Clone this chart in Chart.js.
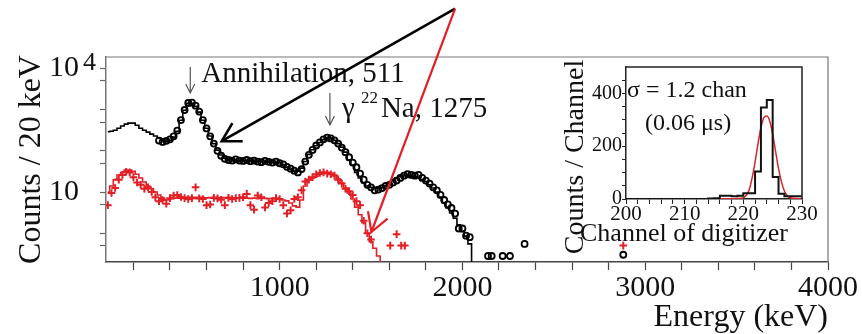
<!DOCTYPE html>
<html>
<head>
<meta charset="utf-8">
<script src="https://cdn.jsdelivr.net/npm/chart.js@4.4.1/dist/chart.umd.min.js"></script>
<style>
  body { margin: 0; background: #fff; }
  #wrap { position: relative; width: 862px; height: 334px; }
  #main { position: absolute; left: 0; top: 0; }
  #inset { position: absolute; left: 550px; top: 55px; }
</style>
</head>
<body>
<div id="wrap">
  <canvas id="main" width="862" height="334"></canvas>
  <canvas id="inset" width="280" height="207"></canvas>
</div>
<script>
// histogram bin centres (20 keV bins)
const histEnergy = [
  60, 80, 100, 120, 140, 160, 180, 200, 220, 240,
  260, 280, 300, 320, 340, 360, 380, 400, 420, 440,
  460, 480, 500, 520, 540, 560, 580, 600, 620, 640,
  660, 680, 700, 720, 740, 760, 780, 800, 820, 840,
  860, 880, 900, 920, 940, 960, 980, 1000, 1020, 1040,
  1060, 1080, 1100, 1120, 1140, 1160, 1180, 1200, 1220, 1240,
  1260, 1280, 1300, 1320, 1340, 1360, 1380, 1400, 1420, 1440,
  1460, 1480, 1500, 1520, 1540, 1560, 1580, 1600, 1620, 1640,
  1660, 1680, 1700, 1720, 1740, 1760, 1780, 1800, 1820, 1840,
  1860, 1880, 1900, 1920, 1940, 1960, 1980, 2000, 2020, 2040,
  2060
];
// simulation, black (all events)
const blackSim = [
  290, 300, 317, 355, 400, 445, 470, 470, 418, 355,
  317, 285, 255, 230, 205, 181, 170, 181, 215, 300,
  553, 967, 1420, 1420, 1200, 870, 553, 355, 230, 150,
  104, 79, 66, 60, 60, 59, 58, 58, 57, 57,
  56, 55, 55, 54, 54, 53, 53, 52, 45, 40,
  36, 32, 32, 38, 55, 82, 106, 133, 160, 188,
  205, 205, 181, 150, 123, 93, 60, 45, 30, 22,
  16.5, 14, 13, 12.5, 12.5, 13, 14, 16, 18.5, 22,
  24, 26, 26, 24, 23, 22, 20, 18, 15, 12.5,
  10, 7.6, 5.4, 4.1, 3.1, 2.3, 1.6, 1.1, 0.85, 0.55,
  0.05
];
// simulation, red (selected events), same bins from 60 keV
const redSim = [
  10, 14, 20, 26, 30, 34, 34, 32, 27, 22,
  17.5, 14, 12, 10, 8.5, 7.1, 6.4, 6.8, 7.1, 7.1,
  7.2, 7.3, 7.4, 7.3, 7.4, 7.5, 7.3, 7.2, 7.3, 7.4,
  7.3, 7.2, 7.3, 7.4, 7.2, 7.1, 7.2, 7.3, 7.1, 7.0,
  7.1, 7.0, 7.1, 7.0, 6.9, 6.9, 6.8, 6.8, 6.4, 6.1,
  5.4, 4.6, 4.3, 6.4, 14, 20, 22, 24, 27, 30,
  30, 29, 26, 21, 16.5, 12.5, 9.5, 6.8, 4.3, 2.8,
  1.8, 1.0, 0.62, 0.43, 0.28, 0.05
];

// measured, black circles
const blackEnergy = [
  340, 360, 380, 400, 420, 440, 460, 480, 500, 520,
  540, 560, 580, 600, 620, 640, 660, 680, 700, 720,
  740, 760, 780, 800, 820, 840, 860, 880, 900, 920,
  940, 960, 980, 1000, 1020, 1040, 1060, 1080, 1100, 1120,
  1140, 1160, 1180, 1200, 1220, 1240, 1260, 1280, 1300, 1320,
  1340, 1360, 1380, 1400, 1420, 1440, 1460, 1480, 1500, 1520,
  1540, 1560, 1580, 1600, 1620, 1640, 1660, 1680, 1700, 1720,
  1740, 1760, 1780, 1800, 1820, 1840, 1860, 1880, 1900, 1920,
  1940, 1960, 1980, 2000, 2020, 2040,
  2140, 2160, 2220, 2260, 2340, 2880
];
const blackCounts = [
  178, 165, 175, 190, 225, 310, 560, 980, 1450, 1480,
  1250, 900, 560, 350, 225, 150, 100, 76, 64, 60,
  58, 62, 58, 57, 60, 56, 58, 55, 53, 57,
  54, 52, 55, 50, 47, 41, 37, 33, 30, 36,
  55, 80, 105, 135, 160, 190, 210, 200, 180, 150,
  120, 93, 70, 52, 40, 28, 20, 15, 13, 11,
  11.5, 12.5, 14, 15, 17, 19, 22, 25, 27, 26,
  25, 26, 22, 19, 16, 13, 11, 8.5, 6.4, 5.0,
  4.1, 3.0, 1.3, 1.3, 0.87, 0.8,
  0.28, 0.28, 0.28, 0.28, 0.55, 0.3
];

// measured, red crosses
const redEnergy = [
  60, 80, 100, 120, 140, 160, 180, 200, 220, 240,
  260, 280, 300, 320, 340, 360, 380, 400, 420, 440,
  460, 480, 500, 520, 540, 560, 580, 600, 620, 640,
  660, 680, 700, 720, 740, 760, 780, 800, 820, 840,
  860, 880, 900, 920, 940, 960, 980, 1000, 1020, 1040,
  1060, 1080, 1100, 1120, 1140, 1160, 1180, 1200, 1220, 1240,
  1260, 1280, 1300, 1320, 1340, 1360, 1380, 1400, 1420, 1440,
  1460, 1480, 1500,
  1605, 1640, 1665, 1685, 2880
];
const redCounts = [
  4.8, 9.5, 12.5, 20, 26, 31, 30, 23, 17, 15,
  12, 13, 10, 7.5, 6.0, 6.4, 5.2, 7.1, 8.2, 8.5,
  7.6, 7.1, 6.8, 7.1, 13, 7.0, 6.8, 4.8, 5.0, 7.2,
  7.0, 6.5, 4.8, 7.2, 6.8, 7.1, 7.2, 7.5, 9.0, 4.8,
  3.7, 8.2, 7.5, 4.2, 5.4, 6.0, 7.1, 6.8, 4.8, 3.0,
  3.6, 6.8, 7.5, 11, 18, 20, 23, 27, 29, 30,
  28, 27, 25, 20, 16, 12, 10.5, 8.5, 6.0, 4.8,
  2.0, 1.0, 0.7,
  0.5, 0.95, 0.5, 0.5, 0.5
];

const energyTicks = [200, 400, 600, 800, 1000, 1200, 1400, 1600, 1800, 2000,
  2200, 2400, 2600, 2800, 3000, 3200, 3400, 3600, 3800, 4000];
const energyLabels = [1000, 2000, 3000, 4000];
const countTicks = [0.5, 1, 5, 10, 50, 100, 500, 1000, 5000, 10000];

// inset: time resolution in digitizer channels
const insetEdge = [
  200, 201, 202, 203, 204, 205, 206, 207, 208, 209,
  210, 211, 212, 213, 214, 215, 216, 217, 218, 219,
  220, 221, 222, 223, 224, 225, 226, 227, 228, 229, 230
];
const insetCounts = [
  0, 0, 0, 0, 0, 0, 0, 0, 0, 0,
  0, 0, 0, 0, 2, 3, 12, 12, 10, 12,
  22, 22, 104, 347, 375, 83, 20, 10, 10, 10, 10
];
const fitChannel = [200, 205, 210, 215, 218, 219, 220, 220.5, 221, 221.5, 222, 222.5, 223,
  223.5, 224, 224.5, 225, 225.5, 226, 226.5, 227, 227.5, 228, 229, 230];
const fitCounts = [1, 1, 1, 1, 1, 2, 5, 14, 35, 80, 140, 210, 270,
  308, 314, 295, 245, 180, 115, 65, 30, 12, 5, 2, 1];
const insetXTicks = [200, 202, 204, 206, 208, 210, 212, 214, 216, 218, 220, 222, 224, 226, 228, 230];
const insetXLabels = [200, 210, 220, 230];
const insetYTicks = [0, 50, 100, 150, 200, 250, 300, 350, 400, 450];
const insetYLabels = [0, 200, 400];

const serif = '"Liberation Serif", "Times New Roman", serif';
const RED = '#e31f26';
Chart.defaults.color = '#111';

const pts = (xs, ys) => ys.map((y, i) => ({ x: xs[i], y }));

// top and right edges of the plot frame
const frame = {
  id: 'frame',
  afterDraw(chart, args, opts) {
    const { ctx, chartArea: a } = chart;
    ctx.save();
    ctx.strokeStyle = opts.color;
    ctx.lineWidth = opts.width;
    ctx.beginPath();
    ctx.moveTo(a.left, a.top);
    ctx.lineTo(a.right, a.top);
    ctx.lineTo(a.right, a.bottom);
    ctx.stroke();
    ctx.restore();
  }
};

function arrow(ctx, x0, y0, x1, y1, color, w) {
  ctx.strokeStyle = color;
  ctx.lineWidth = w;
  ctx.beginPath();
  ctx.moveTo(x0, y0);
  ctx.lineTo(x1, y1);
  ctx.stroke();
  const ang = Math.atan2(y0 - y1, x0 - x1);
  const L = 21;
  ctx.beginPath();
  ctx.moveTo(x1 + L * Math.cos(ang - 0.52), y1 + L * Math.sin(ang - 0.52));
  ctx.lineTo(x1, y1);
  ctx.lineTo(x1 + L * Math.cos(ang + 0.52), y1 + L * Math.sin(ang + 0.52));
  ctx.stroke();
}

function downArrow(ctx, xp, y0, y1) {
  ctx.strokeStyle = '#555';
  ctx.lineWidth = 1.2;
  ctx.beginPath();
  ctx.moveTo(xp, y0);
  ctx.lineTo(xp, y1);
  ctx.moveTo(xp - 4.5, y1 - 9);
  ctx.lineTo(xp, y1);
  ctx.lineTo(xp + 4.5, y1 - 9);
  ctx.stroke();
}

// labels, superscripts and arrows of the main plot
const notes = {
  id: 'notes',
  afterDraw(chart) {
    const { ctx, scales: { x, y } } = chart;
    ctx.save();
    ctx.fillStyle = '#111';
    ctx.textBaseline = 'alphabetic';
    ctx.textAlign = 'left';

    ctx.font = '26px ' + serif;
    ctx.fillText('4', 83, y.getPixelForValue(10000) + 2);

    const xa = x.getPixelForValue(511);
    downArrow(ctx, xa, 67, 93);
    ctx.font = '29px ' + serif;
    ctx.fillText('Annihilation, 511', xa + 11, 82);

    const xn = x.getPixelForValue(1275);
    downArrow(ctx, xn, 93, 125);
    ctx.font = '29px ' + serif;
    ctx.fillText('\u03b3', xn + 12, 117);
    ctx.font = '17px ' + serif;
    ctx.fillText('22', xn + 31, 103);
    ctx.font = '29px ' + serif;
    ctx.fillText('Na, 1275', xn + 51, 117);

    const sx = x.getPixelForValue(1960), sy = y.getPixelForValue(285000);
    arrow(ctx, sx, sy, x.getPixelForValue(683), y.getPixelForValue(172), '#000', 2.6);
    arrow(ctx, sx, sy, x.getPixelForValue(1502), y.getPixelForValue(1.07), RED, 2.2);
    ctx.restore();
  }
};

new Chart(document.getElementById('main'), {
  type: 'line',
  data: {
    datasets: [
      {
        data: pts(histEnergy, blackSim), stepped: 'middle',
        borderColor: '#000', borderWidth: 1.6, pointRadius: 0
      },
      {
        data: pts(histEnergy, redSim), stepped: 'middle',
        borderColor: RED, borderWidth: 1.6, pointRadius: 0
      },
      {
        data: pts(blackEnergy, blackCounts), showLine: false,
        pointStyle: 'circle', pointRadius: 3, borderWidth: 1.8,
        borderColor: '#000', backgroundColor: 'rgba(0,0,0,0)'
      },
      {
        data: pts(redEnergy, redCounts), showLine: false,
        pointStyle: 'cross', pointRadius: 3.8, borderWidth: 2,
        borderColor: RED, backgroundColor: RED
      }
    ]
  },
  options: {
    responsive: false,
    animation: false,
    devicePixelRatio: 1,
    layout: { padding: { top: 57, right: 34, left: 0, bottom: 0 } },
    plugins: {
      legend: { display: false },
      tooltip: { enabled: false },
      frame: { color: '#777', width: 1.2 }
    },
    scales: {
      x: {
        type: 'linear', min: 50, max: 4000,
        afterFit: s => { s.height = 72; },
        afterBuildTicks: s => { s.ticks = energyTicks.map(v => ({ value: v })); },
        grid: { drawOnChartArea: false, tickLength: 8, tickColor: '#444', tickWidth: 1.2 },
        border: { color: '#444', width: 1.5 },
        ticks: {
          autoSkip: false, maxRotation: 0, padding: 0, color: '#111',
          font: { family: serif, size: 30 },
          callback: v => energyLabels.includes(v) ? String(v) : ''
        },
        title: {
          display: true, text: 'Energy (keV)', align: 'end', color: '#111',
          font: { family: serif, size: 32, lineHeight: 1 },
          padding: { top: 1, bottom: 0 }
        }
      },
      y: {
        type: 'logarithmic', min: 0.2, max: 19000,
        afterFit: s => { s.width = 106; },
        afterBuildTicks: s => { s.ticks = countTicks.map(v => ({ value: v })); },
        grid: { drawOnChartArea: false, tickLength: 6, tickColor: '#666', tickWidth: 1.2 },
        border: { color: '#777', width: 1.5 },
        ticks: {
          autoSkip: false, padding: 21, color: '#111',
          font: { family: serif, size: 30 },
          callback: v => (v === 10 || v === 10000) ? '10' : ''
        },
        title: {
          display: true, text: 'Counts / 20 keV', color: '#111',
          font: { family: serif, size: 32, lineHeight: 1 },
          padding: { top: 16, bottom: 0 }
        }
      }
    }
  },
  plugins: [frame, notes]
});

// texts of the inset
const insetText = {
  id: 'insetText',
  afterDraw(chart) {
    const { ctx } = chart;
    ctx.save();
    ctx.fillStyle = '#111';
    ctx.textBaseline = 'alphabetic';
    ctx.textAlign = 'left';
    ctx.font = '24px ' + serif;
    ctx.fillText('\u03c3 = 1.2 chan', 77, 42);
    ctx.fillText('(0.06 \u03bcs)', 95, 75);
    ctx.font = '26px ' + serif;
    ctx.fillText('Channel of digitizer', 30, 186);
    ctx.translate(33, 102);
    ctx.rotate(-Math.PI / 2);
    ctx.textAlign = 'center';
    ctx.font = '28px ' + serif;
    ctx.fillText('Counts / Channel', 0, 0);
    ctx.restore();
  }
};

new Chart(document.getElementById('inset'), {
  type: 'line',
  data: {
    datasets: [
      {
        data: pts(insetEdge, insetCounts), stepped: true,
        borderColor: '#111', borderWidth: 2, pointRadius: 0
      },
      {
        data: pts(fitChannel, fitCounts), cubicInterpolationMode: 'monotone',
        borderColor: '#d7262b', borderWidth: 1.5, pointRadius: 0
      }
    ]
  },
  options: {
    responsive: false,
    animation: false,
    devicePixelRatio: 1,
    layout: { padding: { top: 9, right: 28, left: 0, bottom: 0 } },
    plugins: {
      legend: { display: false },
      tooltip: { enabled: false },
      frame: { color: '#222', width: 1.5 }
    },
    scales: {
      x: {
        type: 'linear', min: 200, max: 230,
        afterFit: s => { s.height = 63; },
        afterBuildTicks: s => { s.ticks = insetXTicks.map(v => ({ value: v })); },
        grid: { drawOnChartArea: false, tickLength: 5, tickColor: '#222' },
        border: { color: '#222', width: 1.5 },
        ticks: {
          autoSkip: false, maxRotation: 0, padding: 0, color: '#111',
          font: { family: serif, size: 21, lineHeight: 1 },
          callback: v => insetXLabels.includes(v) ? String(v) : ''
        }
      },
      y: {
        min: 0, max: 500,
        afterFit: s => { s.width = 76; },
        afterBuildTicks: s => { s.ticks = insetYTicks.map(v => ({ value: v })); },
        grid: { drawOnChartArea: false, tickLength: 4, tickColor: '#222' },
        border: { color: '#222', width: 1.5 },
        ticks: {
          autoSkip: false, padding: 0, color: '#111',
          font: { family: serif, size: 20 },
          callback: v => insetYLabels.includes(v) ? String(v) : ''
        }
      }
    }
  },
  plugins: [frame, insetText]
});
</script>
</body>
</html>
